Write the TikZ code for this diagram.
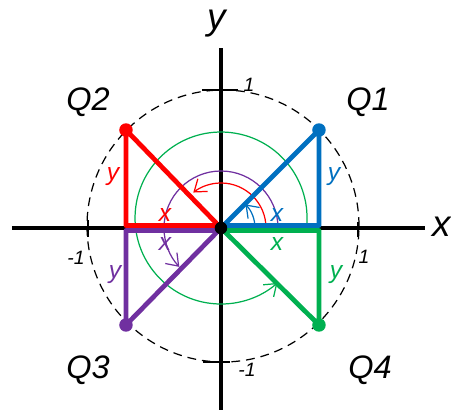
\documentclass[tikz,border=0pt]{standalone}
\usepackage{fontspec}
\setmainfont{Liberation Sans}
\usepackage{xcolor}
\usepackage{tikz}
\usetikzlibrary{arrows.meta,calc}
\definecolor{qblue}{RGB}{0,112,192}
\definecolor{qred}{RGB}{255,0,0}
\definecolor{qgreen}{RGB}{0,176,80}
\definecolor{qpurple}{RGB}{112,48,160}
\tikzset{
  AX/.style={line width=2.3pt, color=black},
  TK/.style={line width=0.7pt, color=black},
  SIDE/.style={line width=2.7pt, line join=round},
  DOT/.style={circle, fill, inner sep=0pt, minimum size=0.27cm},
  ANG/.style={line width=0.7pt, -{Straight Barb[length=2.2mm,width=3.2mm]}},
  LBL/.style={font=\fontsize{14}{16}\selectfont\itshape, inner sep=0pt},
  NUM/.style={font=\fontsize{11}{13}\selectfont\itshape, inner sep=0pt},
  QL/.style={font=\fontsize{18.5}{20}\selectfont\itshape, inner sep=0pt},
  AXL/.style={font=\fontsize{21}{23}\selectfont\itshape, inner sep=0pt}
}

\begin{document}
\begin{tikzpicture}[x=0.02cm, y=0.02cm]
\useasboundingbox (-221,-182) rectangle (230,228);

% ---- Points ----
\coordinate (O)  at (0,0);
\coordinate (C)  at (2,2);
\coordinate (P1) at (98,98);
\coordinate (P2) at (-95,98);
\coordinate (P3) at (-95,-97);
\coordinate (P4) at (98,-97);

% ---- Axes ----
\coordinate (XL) at (-209,0);
\coordinate (XR) at (204,0);
\coordinate (YB) at (0,-182);
\coordinate (YT) at (0,180);
\draw[AX] (XL) -- (XR);
\draw[AX] (YB) -- (YT);
\node[AXL] (xlab) at (221,1) {x};
\node[AXL] (ylab) at (-4,204) {y};

% ---- Unit circle and ticks ----
\draw[line width=0.7pt, dash pattern=on 5pt off 3.4pt] (C) circle[radius=136];
\coordinate (T1a) at (-19,138);  \coordinate (T1b) at (17,138);
\coordinate (T2a) at (-18,-134); \coordinate (T2b) at (9,-134);
\coordinate (T3a) at (-133,8);   \coordinate (T3b) at (-133,-9);
\coordinate (T4a) at (137,6);    \coordinate (T4b) at (137,-9);
\draw[TK] (T1a) -- (T1b);
\draw[TK] (T2a) -- (T2b);
\draw[TK] (T3a) -- (T3b);
\draw[TK] (T4a) -- (T4b);
\node[NUM] (n1) at (28,143)   {1};
\node[NUM] (n2) at (26,-142)  {-1};
\node[NUM] (n3) at (-145,-30) {-1};
\node[NUM] (n4) at (143,-29)  {1};

% ---- Angle arcs ----
\draw[ANG, qblue]   ($(O)+(34,0)$) arc[start angle=0, end angle=44, radius=34];
\draw[ANG, qred]    ($(O)+(45,0)$) arc[start angle=0, end angle=128, radius=45];
\draw[ANG, qpurple] ($(O)+(57,0)$) arc[start angle=0, end angle=223, radius=57];
\draw[ANG, qgreen]  ($(O)+(85.4,-0.5)$) arc[start angle=-7, end angle=311, radius=86];

% ---- Triangles ----
\draw[SIDE, qblue]   (O) -- (P1) |- ([yshift=1.4pt]O);
\draw[SIDE, qred]    (O) -- (P2) |- ([yshift=1.4pt]O);
\draw[SIDE, qpurple] (O) -- (P3) |- ([yshift=-1.4pt]O);
\draw[SIDE, qgreen]  (O) -- (P4) |- ([yshift=-1.4pt]O);

\node[DOT, qblue]   (d1) at (P1) {};
\node[DOT, qred]    (d2) at (P2) {};
\node[DOT, qpurple] (d3) at (P3) {};
\node[DOT, qgreen]  (d4) at (P4) {};
\node[DOT, black, minimum size=0.25cm] (d0) at (O) {};

% ---- Side labels ----
\node[LBL, qblue]   (x1) at (56,13)    {x};
\node[LBL, qblue]   (y1) at (113,51)   {y};
\node[LBL, qred]    (x2) at (-56,13)   {x};
\node[LBL, qred]    (y2) at (-108,51)  {y};
\node[LBL, qpurple] (x3) at (-56,-16)  {x};
\node[LBL, qpurple] (y3) at (-106,-47) {y};
\node[LBL, qgreen]  (x4) at (56,-16)   {x};
\node[LBL, qgreen]  (y4) at (115,-47)  {y};

% ---- Quadrant names ----
\node[QL] (q1) at (147,126)  {Q1};
\node[QL] (q2) at (-133,126) {Q2};
\node[QL] (q3) at (-133,-142) {Q3};
\node[QL] (q4) at (149,-142) {Q4};

\end{tikzpicture}
\end{document}
